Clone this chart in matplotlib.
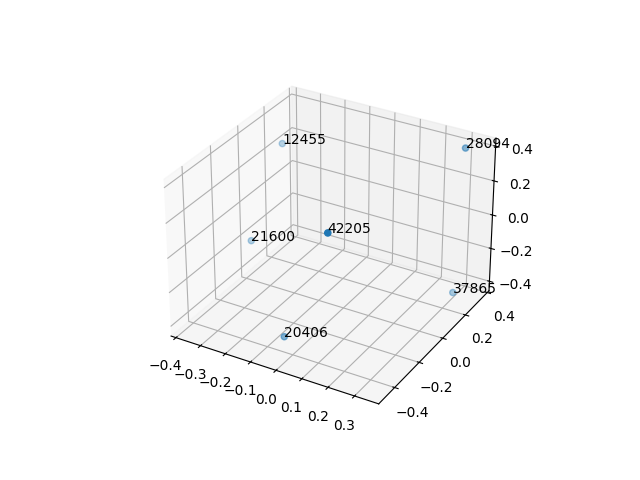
import matplotlib
matplotlib.use("Agg")
import matplotlib.pyplot as plt
import numpy as np

# point labels and their 3D coordinates
labels = ["12455", "28094", "21600", "42205", "37865", "20406"]
xs = [-0.402, 0.284, -0.396, 0.186, 0.295, -0.078]
ys = [0.304, 0.400, 0.037, -0.498, 0.304, -0.314]
zs = [0.175, 0.358, -0.248, 0.388, -0.436, -0.449]

fig = plt.figure(figsize=(6.4, 4.8), dpi=100)
ax = fig.add_subplot(projection="3d")

ax.scatter(xs, ys, zs)
for lab, x, y, z in zip(labels, xs, ys, zs):
    ax.text(x, y, z, lab)

ax.set_xlim(-0.42, 0.39)
ax.set_ylim(-0.526, 0.417)
ax.set_zlim(-0.458, 0.446)

fig.savefig("out.png", dpi=100)
